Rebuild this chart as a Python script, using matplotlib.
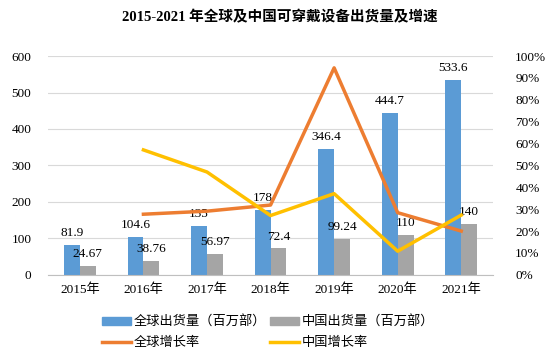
import numpy as np
import matplotlib.pyplot as plt
from matplotlib.patches import Patch
from matplotlib.lines import Line2D

plt.rcParams['font.family'] = ['Liberation Serif', 'Noto Sans CJK SC']

years = ['2015年', '2016年', '2017年', '2018年', '2019年', '2020年', '2021年']
global_ship = [81.9, 104.6, 135, 178, 346.4, 444.7, 533.6]
china_ship = [24.67, 38.76, 56.97, 72.4, 99.24, 110, 140]
global_rate = [None, 27.7, 29.1, 31.9, 94.6, 28.4, 20.0]
china_rate = [None, 57.1, 47.0, 27.1, 37.1, 10.8, 27.3]
global_lbl = ['81.9', '104.6', '135', '178', '346.4', '444.7', '533.6']
china_lbl = ['24.67', '38.76', '56.97', '72.4', '99.24', '110', '140']

blue = '#5b9bd5'
gray = '#a5a5a5'
orange = '#ed7d31'
yellow = '#ffc000'

fig = plt.figure(figsize=(5.59, 3.64), dpi=100)
ax = fig.add_axes([0.086, 0.245, 0.796, 0.601])
x = np.arange(len(years))
w = 0.25
ax.bar(x - w / 2, global_ship, w, color=blue, zorder=2)
ax.bar(x + w / 2, china_ship, w, color=gray, zorder=2)
for i in x:
    ax.text(i - w / 2, global_ship[i] + 16, global_lbl[i], ha='center', va='bottom', fontsize=9.5)
    ax.text(i + w / 2, china_ship[i] + 16, china_lbl[i], ha='center', va='bottom', fontsize=9.5)
ax.set_ylim(0, 600)
ax.set_xlim(-0.5, 6.5)
ax.set_yticks(range(0, 601, 100))
ax.set_xticks(x)
ax.set_xticklabels(years)
ax.grid(axis='y', color='#d9d9d9', lw=0.8, zorder=0)
ax.set_axisbelow(True)
for s in ['top', 'right', 'left']:
    ax.spines[s].set_visible(False)
ax.spines['bottom'].set_color('#bfbfbf')
ax.tick_params(length=0, labelsize=9.5, pad=6)
ax.tick_params(axis='y', pad=12)

ax2 = ax.twinx()
gr = [np.nan if v is None else v for v in global_rate]
cr = [np.nan if v is None else v for v in china_rate]
ax2.plot(x, gr, color=orange, lw=2.5, zorder=3)
ax2.plot(x, cr, color=yellow, lw=2.5, zorder=3)
ax2.set_ylim(0, 100)
ax2.set_yticks(range(0, 101, 10))
ax2.set_yticklabels([f'{v}%' for v in range(0, 101, 10)])
for s in ['top', 'right', 'left', 'bottom']:
    ax2.spines[s].set_visible(False)
ax2.tick_params(length=0, labelsize=9.5, pad=16)

fig.text(0.5, 0.952, '2015-2021 年全球及中国可穿戴设备出货量及增速', ha='center', va='center',
         fontsize=10.5, fontweight='bold')

handles = [Patch(color=blue), Line2D([], [], color=orange, lw=2.5),
           Patch(color=gray), Line2D([], [], color=yellow, lw=2.5)]
labels = ['全球出货量（百万部）', '全球增长率', '中国出货量（百万部）', '中国增长率']
fig.legend(handles, labels, ncol=2, loc='center', bbox_to_anchor=(0.48, 0.087), frameon=False,
           fontsize=9.5, handlelength=2.2, handleheight=0.5, columnspacing=0.3, handletextpad=0.2,
           labelspacing=0.6)

fig.savefig('out.png', dpi=100)
